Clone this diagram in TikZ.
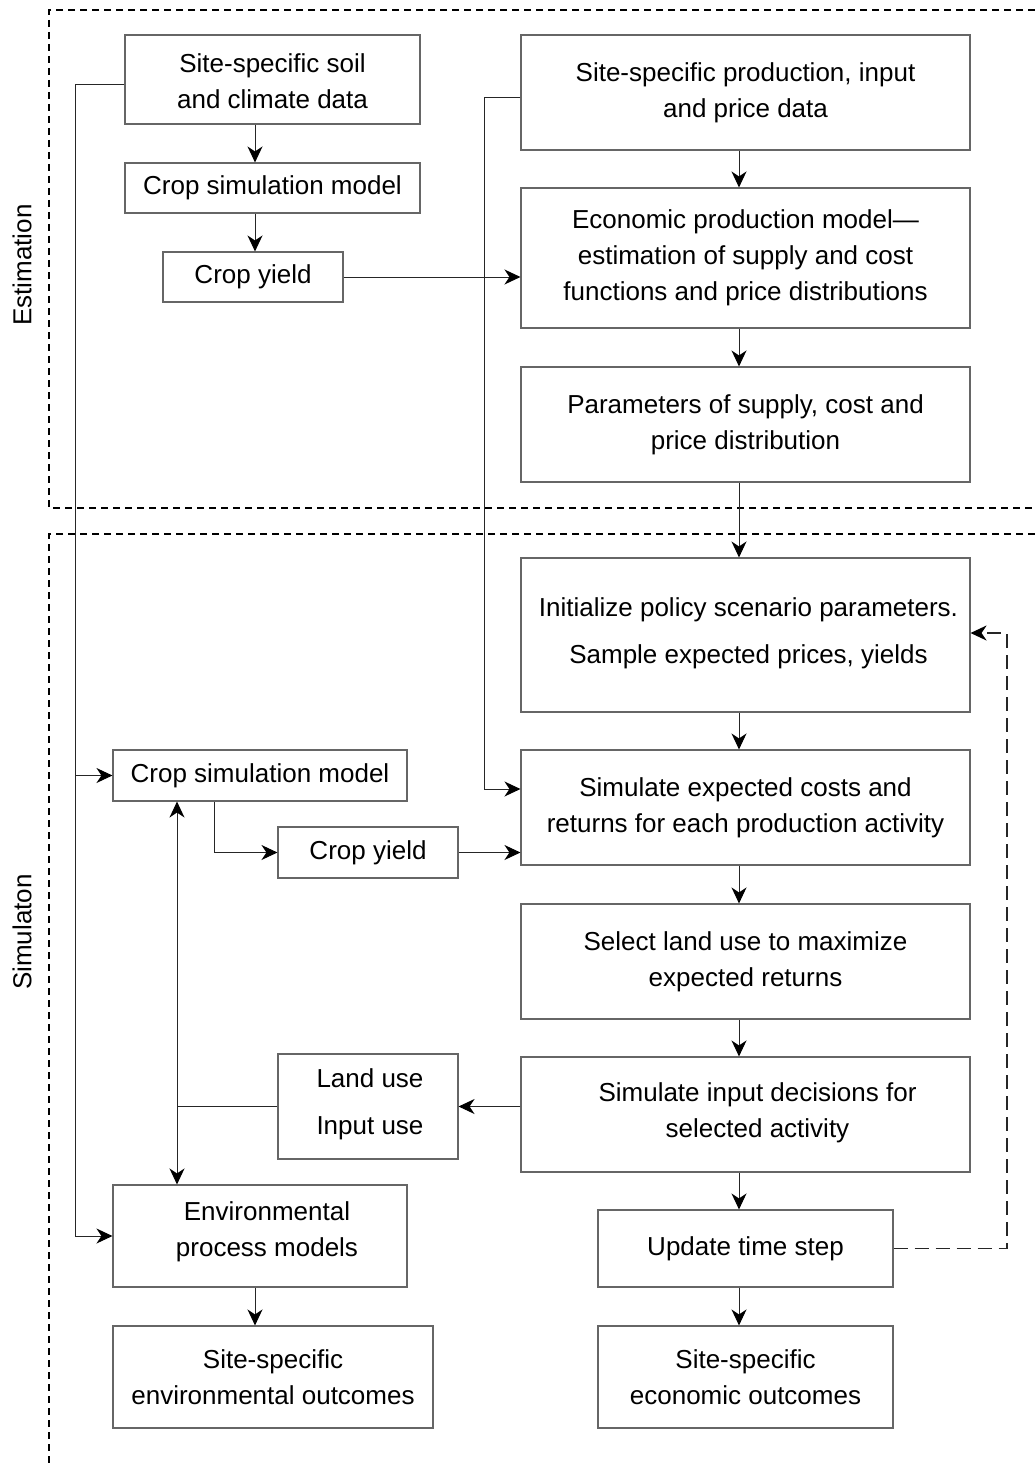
\documentclass[tikz,border=0pt]{standalone}
\usepackage{fontspec}
\setmainfont{Liberation Sans}
\usetikzlibrary{arrows.meta,calc}
\begin{document}
\begin{tikzpicture}[x=1pt,y=-1pt,
 box/.style={draw=black!60,line width=1.1pt,inner sep=0pt,align=center,font=\fontsize{26}{36}\selectfont},
 txt/.style={inner sep=0pt,align=center,font=\fontsize{26}{36}\selectfont},
 tip/.style={-{Stealth[length=16pt,width=15pt,inset=5pt,color=black]}},
 arr/.style={draw=black!85,line width=1pt,tip},
 conn/.style={draw=black!85,line width=1pt},
 region/.style={draw=black,line width=1.5pt,dash pattern=on 7pt off 5pt},
 fb/.style={draw=black!85,line width=1.2pt,dash pattern=on 14pt off 7pt,tip},
 side/.style={font=\fontsize{26}{30}\selectfont,rotate=90,inner sep=0pt}
]
\useasboundingbox (0,0) rectangle (1035,1463);

% regions
\draw[region] (1035,10) -- (49,10) -- (49,508) -- (1035,508);
\draw[region] (1035,534) -- (49,534) -- (49,1463);
\node[side] (est) at (22,265) {Estimation};
\node[side] (sim) at (22,932) {Simulaton};

% boxes
\node[box,minimum width=295,minimum height=89] (A) at (272.5,79.5) {};
\node[txt] at ($(A.center)+(0,2)$) {Site-specific soil\\and climate data};
\node[box,minimum width=295,minimum height=50] (B) at (272.5,188) {Crop simulation model};
\node[box,minimum width=180,minimum height=50] (C) at (253,277) {Crop yield};
\node[box,minimum width=449,minimum height=115] (D) at (745.5,92.5) {Site-specific production, input\\and price data};
\node[box,minimum width=449,minimum height=140] (E) at (745.5,258) {Economic production model---\\estimation of supply and cost\\functions and price distributions};
\node[box,minimum width=449,minimum height=115] (F) at (745.5,424.5) {Parameters of supply, cost and\\price distribution};
\node[box,minimum width=449,minimum height=154] (G) at (745.5,635) {};
\node[txt] at ($(G.center)+(3,-2)$) {Initialize policy scenario parameters.\\[11pt]Sample expected prices, yields};
\node[box,minimum width=449,minimum height=115] (H) at (745.5,807.5) {Simulate expected costs and\\returns for each production activity};
\node[box,minimum width=294,minimum height=51] (I) at (260,775.5) {Crop simulation model};
\node[box,minimum width=180,minimum height=51] (J) at (368,852.5) {Crop yield};
\node[box,minimum width=449,minimum height=115] (K) at (745.5,961.5) {Select land use to maximize\\expected returns};
\node[box,minimum width=180,minimum height=105] (L) at (368,1106.5) {};
\node[txt,align=left] at ($(L.center)+(2,-2)$) {Land use\\[11pt]Input use};
\node[box,minimum width=449,minimum height=115] (M) at (745.5,1114.5) {};
\node[txt] at ($(M.center)+(12,-2)$) {Simulate input decisions for\\selected activity};
\node[box,minimum width=294,minimum height=102] (N) at (260,1236) {};
\node[txt] at ($(N.center)+(7,-4)$) {Environmental\\process models};
\node[box,minimum width=295,minimum height=77] (O) at (745.5,1248.5) {Update time step};
\node[box,minimum width=320,minimum height=102] (P) at (273,1377) {Site-specific\\environmental outcomes};
\node[box,minimum width=295,minimum height=102] (Q) at (745.5,1377) {Site-specific\\economic outcomes};

% helper coordinates
\coordinate (xL) at (255,0);
\coordinate (xR) at (739,0);
\coordinate (l1) at (75,85);
\coordinate (r1) at (484,98);
\coordinate (yH) at (0,789);
\coordinate (x214) at (214,0);
\coordinate (x177) at (177,0);
\coordinate (fbx) at (1007,0);
\coordinate (yG) at (0,633);

% vertical flow
\draw[arr] (A.south -| xL) -- (B.north -| xL);
\draw[arr] (B.south -| xL) -- (C.north -| xL);
\draw[arr] (D.south -| xR) -- (E.north -| xR);
\draw[arr] (E.south -| xR) -- (F.north -| xR);
\draw[arr] (F.south -| xR) -- (G.north -| xR);
\draw[arr] (G.south -| xR) -- (H.north -| xR);
\draw[arr] (H.south -| xR) -- (K.north -| xR);
\draw[arr] (K.south -| xR) -- (M.north -| xR);
\draw[arr] (M.south -| xR) -- (O.north -| xR);
\draw[arr] (O.south -| xR) -- (Q.north -| xR);
\draw[arr] (N.south -| xL) -- (P.north -| xL);

% left feed
\draw[arr] (A.west |- l1) -- (l1) |- (N.west);
\draw[arr] (l1 |- I.west) -- (I.west);

% right feed
\draw[arr] (D.west |- r1) -- (r1) |- (H.west |- yH);
\draw[arr] (C.east) -- (C.east -| E.west);

% crop model bottom
\draw[arr] (I.south -| x214) |- (J.west);
\draw[arr] (J.east) -- (J.east -| H.west);
\draw[arr] (M.west |- L.east) -- (L.east);
\draw[conn] (L.west) -- (L.west -| x177);
\draw[arr] (L.west -| x177) -- (I.south -| x177);
\draw[arr] (L.west -| x177) -- (N.north -| x177);

% feedback
\draw[fb] (O.east) -- (O.east -| fbx) -- (fbx |- yG) -- (G.east |- yG);
\end{tikzpicture}
\end{document}
